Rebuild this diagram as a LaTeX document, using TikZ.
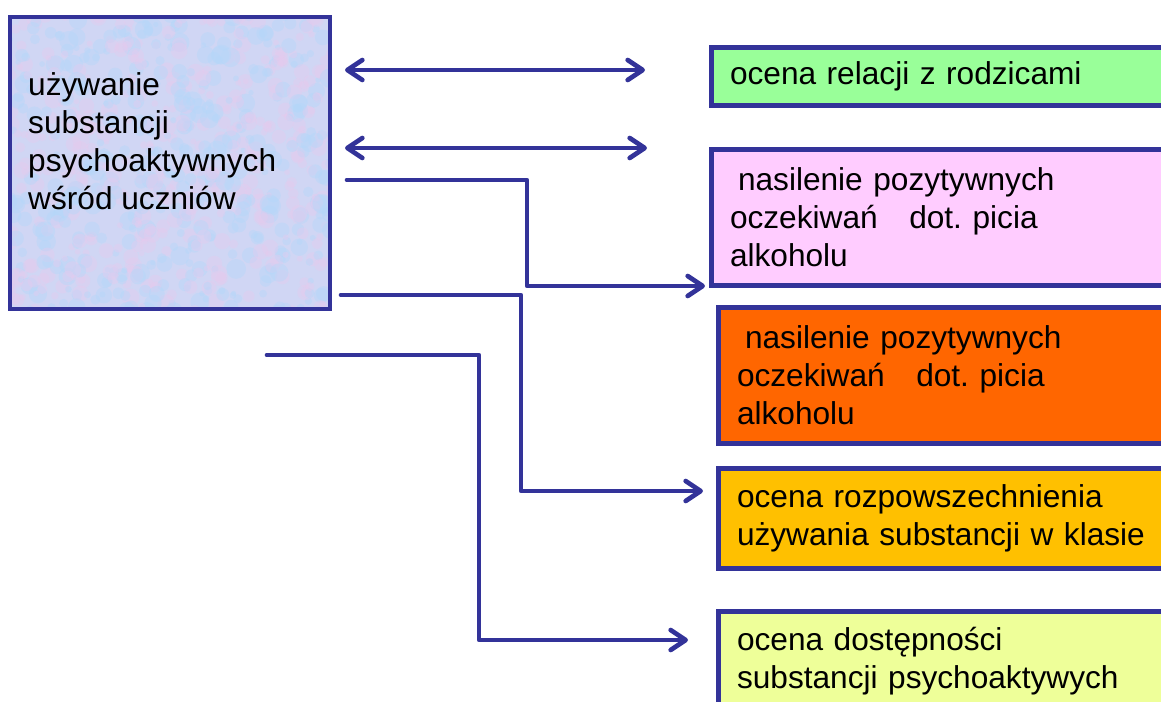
\documentclass[tikz,border=0pt]{standalone}
\usepackage{fontspec}
\setmainfont{Liberation Sans}
\usepackage{tikz}
\usetikzlibrary{arrows.meta,positioning}

\definecolor{frame}{HTML}{333399}
\definecolor{srcfill}{RGB}{208,214,244}
\definecolor{blobblue}{RGB}{180,216,250}
\definecolor{blobpink}{RGB}{232,202,238}
\definecolor{relfill}{HTML}{99FF99}
\definecolor{expfill}{HTML}{FFCCFF}
\definecolor{hotfill}{HTML}{FF6600}
\definecolor{freqfill}{HTML}{FFC000}
\definecolor{availfill}{HTML}{EEFF99}

\begin{document}
\frenchspacing
\begin{tikzpicture}[x=0.03cm,y=-0.03cm,
                    every node/.style={font=\fontsize{27pt}{32.4pt}\selectfont},
                    src node/.style={rectangle,draw=frame,line width=0.13cm,fill=srcfill,
                                     anchor=north west,inner sep=0,
                                     minimum width=9.6cm,minimum height=8.76cm},
                    box node/.style={rectangle,draw=frame,line width=0.14cm,anchor=north west,
                                     text width=14cm,inner xsep=0.56cm,align=left},
                    >={Straight Barb[length=0.45cm,width=0.6cm,round]},
                    link/.style={draw=frame,line width=0.14cm,line cap=round,line join=round}]

  \useasboundingbox (0,0) rectangle (1161,701);
  \clip (0,0) rectangle (1161,701);

  % left box with mottled fill
  \pgfmathsetseed{7}
  \node[src node,path picture={
      \foreach \i in {1,...,420} {
        \fill[blobblue,opacity=.4] ({(rnd-.5)*330},{(rnd-.5)*300}) circle[radius={0.08cm+0.22cm*rnd}];
        \fill[blobpink,opacity=.35] ({(rnd-.5)*330},{(rnd-.5)*300}) circle[radius={0.08cm+0.18cm*rnd}];
      }}] (src) at (8,15) {};
  \node[anchor=north west,align=left,inner sep=0] (srctxt)
    [below right=1.71cm and 0.6cm of src.north west]
    {używanie\\substancji\\psychoaktywnych\\wśród uczniów};

  % right boxes
  \node[box node,fill=relfill,minimum height=1.74cm] (rel) at (709,45)
    {ocena relacji z rodzicami};
  \node[box node,fill=expfill,minimum height=4.08cm] (exp1) at (709,147)
    {\hspace*{0.24cm}nasilenie pozytywnych\\oczekiwań\ \ \ dot. picia\\alkoholu};
  \node[box node,fill=hotfill,minimum height=4.08cm] (exp2) at (716,305)
    {\hspace*{0.24cm}nasilenie pozytywnych\\oczekiwań\ \ \ dot. picia\\alkoholu};
  \node[box node,fill=freqfill,minimum height=3cm] (freq) at (716,466)
    {ocena rozpowszechnienia\\używania substancji w klasie};
  \node[box node,fill=availfill,minimum height=3cm] (avail) at (716,609)
    {ocena dostępności\\substancji psychoaktywych};

  % connectors
  \coordinate (a1) at (345,70);
  \coordinate (a2) at (345,148);
  \coordinate (s1) at (347,180);
  \coordinate (k1) at (527,286);
  \coordinate (s2) at (341,295);
  \coordinate (k2) at (521,491);
  \coordinate (s3) at (267,355);
  \coordinate (k3) at (479,640);

  \draw[link,<->,shorten >=1.92cm] (a1) -- (a1 -| rel.west);
  \draw[link,<->,shorten >=1.86cm] (a2) -- (a2 -| exp1.west);
  \draw[link,->,shorten >=0.12cm] (s1) -| (k1) -- (k1 -| exp1.west);
  \draw[link,->,shorten >=0.39cm] (s2) -| (k2) -- (k2 -| freq.west);
  \draw[link,->,shorten >=0.84cm] (s3) -| (k3) -- (k3 -| avail.west);
\end{tikzpicture}
\end{document}
